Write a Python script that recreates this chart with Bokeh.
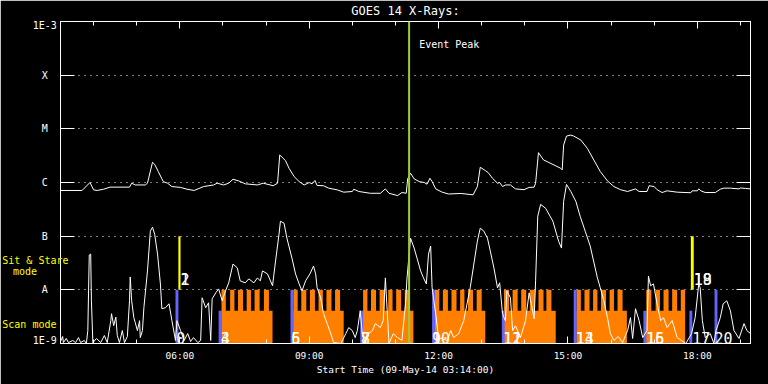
from bokeh.plotting import figure
from bokeh.models import (FixedTicker, LinearAxis, LogAxis, Span, Label,
                          CustomJSTickFormatter, ColumnDataSource)
from bokeh.core.properties import value
from bokeh.embed import file_html
from bokeh.resources import INLINE

FONT = "DejaVu Sans Mono"

# ---------------- data (time = minutes after start 09-May-14 03:14:00) ----------------
title_text = "GOES 14 X-Rays:"
start_label = "Start Time (09-May-14 03:14:00)"
x_tick_minutes = [166, 346, 526, 706, 886]
x_tick_labels = ["06:00", "09:00", "12:00", "15:00", "18:00"]
x_minor_minutes = [46, 106, 166, 226, 286, 346, 406, 466, 526, 586, 646, 706, 766, 826, 886, 946]
y_tick_values = [1e-9, 1e-8, 1e-7, 1e-6, 1e-5, 1e-4, 1e-3]
y_tick_labels = ["1E-9", "A", "B", "C", "M", "X", "1E-3"]
mode_labels = ["Sit & Stare", "mode", "Scan mode"]
event_peak_minute = 485

# GOES long channel (1-8 A)
long_t = [0, 30, 41, 46, 51, 60, 69, 96, 99, 104,
          118, 121, 128, 131, 136, 143, 149, 155, 167, 176,
          186, 199, 213, 218, 227, 234, 240, 248, 257, 274,
          282, 296, 302, 305, 313, 318, 325, 332, 339, 346,
          350, 354, 357, 366, 373, 385, 394, 406, 408, 415,
          431, 445, 452, 457, 469, 475, 481, 483, 487, 492,
          499, 506, 510, 514, 517, 522, 531, 540, 557, 574,
          580, 584, 591, 595, 601, 608, 611, 615, 619, 626,
          633, 645, 652, 659, 661, 665, 672, 677, 696, 698,
          700, 704, 710, 714, 724, 733, 742, 751, 761, 770,
          779, 789, 800, 805, 816, 819, 826, 830, 837, 844,
          858, 877, 879, 886, 888, 891, 897, 911, 918, 923,
          932, 944, 946, 953, 960]
long_flux = [7.1e-7, 7.1e-7, 1.0e-6, 7.3e-7, 7.1e-7, 7.5e-7, 8.2e-7, 8.2e-7, 9.7e-7, 9.0e-7,
             9.0e-7, 9.7e-7, 2.38e-6, 2.18e-6, 1.6e-6, 1.04e-6, 9.7e-7, 8.4e-7, 8.1e-7, 7.5e-7,
             7.1e-7, 8.4e-7, 9.0e-7, 9.7e-7, 9.0e-7, 9.7e-7, 1.15e-6, 1.07e-6, 9.45e-7, 9.0e-7,
             9.7e-7, 8.7e-7, 9.7e-7, 3.26e-6, 2.56e-6, 1.84e-6, 1.29e-6, 1.04e-6, 9.0e-7, 1.0e-6,
             9.45e-7, 1.09e-6, 8.8e-7, 8.7e-7, 7.85e-7, 7.3e-7, 6.6e-7, 6.8e-7, 7.5e-7, 6.8e-7,
             6.3e-7, 6.3e-7, 7.6e-7, 6.3e-7, 5.7e-7, 6.5e-7, 6.3e-7, 1.17e-6, 1.49e-6, 1.17e-6,
             1.04e-6, 1.0e-6, 9.3e-7, 1.2e-6, 1.04e-6, 7.6e-7, 6.6e-7, 6.1e-7, 6.25e-7, 5.9e-7,
             8.4e-7, 1.92e-6, 1.67e-6, 1.53e-6, 1.2e-6, 9.7e-7, 1.0e-6, 8.4e-7, 9.0e-7, 9.0e-7,
             7.6e-7, 7.35e-7, 8.1e-7, 8.2e-7, 9.7e-7, 3.6e-6, 2.63e-6, 2.45e-6, 1.84e-6, 1.72e-6,
             4.98e-6, 7.33e-6, 7.65e-6, 7.33e-6, 6.17e-6, 4.32e-6, 2.63e-6, 1.6e-6, 1.07e-6, 8.4e-7,
             7.35e-7, 6.8e-7, 7.6e-7, 6.8e-7, 6.8e-7, 8.7e-7, 8.4e-7, 7.35e-7, 6.5e-7, 7.0e-7,
             6.6e-7, 6.45e-7, 7.0e-7, 7.0e-7, 7.6e-7, 7.0e-7, 6.5e-7, 6.5e-7, 7.5e-7, 7.85e-7,
             7.85e-7, 7.6e-7, 7.9e-7, 7.75e-7, 7.6e-7]

# GOES short channel (0.5-4 A)
short_t = [0, 3, 4, 8, 11, 17, 21, 25, 28, 33,
           36, 38, 40, 42, 43, 45, 50, 56, 61, 65,
           70, 71, 74, 77, 79, 82, 86, 89, 93, 96,
           97, 99, 102, 104, 107, 110, 111, 114, 116, 121,
           125, 128, 131, 135, 139, 141, 146, 151, 155, 160,
           162, 167, 172, 177, 181, 185, 191, 195, 197, 202,
           206, 209, 211, 216, 220, 225, 228, 234, 240, 246,
           250, 257, 262, 269, 274, 278, 281, 288, 295, 298,
           304, 306, 311, 315, 322, 327, 332, 336, 341, 347,
           352, 355, 357, 362, 366, 371, 376, 380, 390, 397,
           401, 406, 410, 413, 417, 420, 424, 429, 434, 438,
           445, 449, 452, 457, 463, 469, 475, 480, 482, 487,
           492, 496, 501, 505, 509, 512, 515, 517, 522, 526,
           538, 543, 547, 554, 561, 570, 580, 584, 589, 594,
           598, 603, 608, 611, 615, 617, 619, 621, 626, 629,
           633, 640, 647, 652, 656, 659, 661, 664, 668, 675,
           685, 693, 697, 700, 704, 710, 717, 723, 730, 737,
           747, 751, 756, 761, 765, 770, 776, 782, 789, 793,
           796, 800, 805, 810, 816, 818, 821, 825, 830, 835,
           839, 844, 851, 858, 870, 878, 883, 888, 890, 893,
           897, 904, 909, 912, 918, 922, 927, 932, 937, 944,
           951, 955, 960]
short_flux = [1.09e-9, 1.35e-9, 1.04e-9, 1.24e-9, 1.04e-9, 1.14e-9, 1.04e-9, 1.29e-9, 1.04e-9, 1.14e-9,
              1.0e-9, 1.74e-9, 4.45e-8, 4.64e-8, 6.25e-9, 1.04e-9, 1.24e-9, 1.04e-9, 1.41e-9, 1.04e-9,
              2.67e-9, 3.59e-9, 2.15e-9, 3.1e-9, 1.41e-9, 1.04e-9, 1.74e-9, 1.04e-9, 1.35e-9, 6.25e-9,
              1.74e-8, 6.25e-9, 3.03e-9, 2.45e-9, 1.74e-9, 2.67e-9, 1.29e-9, 1.74e-9, 4.64e-9, 2.25e-8,
              1.24e-7, 1.47e-7, 1.09e-7, 4.64e-8, 1.29e-8, 4.45e-9, 4.64e-9, 5.5e-9, 2.67e-9, 1.14e-9,
              2.67e-9, 1.74e-9, 1.14e-9, 1.53e-9, 1.09e-9, 1.29e-9, 1.04e-9, 1.14e-9, 7.11e-9, 4.64e-9,
              5.74e-9, 1.14e-9, 6.81e-9, 8.8e-9, 1.04e-8, 6.25e-9, 8.43e-9, 1.35e-8, 3.03e-8, 2.56e-8,
              1.47e-8, 1.35e-8, 1.6e-8, 1.35e-8, 1.67e-8, 1.47e-8, 2.25e-8, 1.98e-8, 1.19e-8, 2.56e-8,
              1.09e-7, 1.9e-7, 1.74e-7, 9.18e-8, 3.91e-8, 1.98e-8, 1.29e-8, 9.58e-9, 1.47e-8, 1.98e-8,
              2.78e-8, 1.98e-8, 1.09e-8, 7.11e-9, 3.59e-9, 2.35e-9, 1.53e-9, 1.04e-9, 1.0e-9, 1.53e-9,
              1.98e-9, 1.74e-9, 1.29e-9, 1.74e-9, 4.08e-9, 1.41e-9, 1.04e-9, 1.53e-9, 1.74e-9, 2.35e-9,
              1.98e-9, 2.67e-9, 1.67e-8, 1.0e-9, 1.53e-9, 1.29e-9, 1.14e-9, 5.5e-9, 1.6e-8, 9.18e-8,
              6.0e-8, 3.91e-8, 2.25e-8, 1.67e-8, 1.29e-8, 4.64e-8, 6.53e-8, 1.09e-8, 3.59e-9, 1.29e-9,
              1.14e-9, 1.74e-9, 1.29e-9, 1.53e-9, 2.67e-9, 1.09e-8, 8.08e-8, 1.41e-7, 1.24e-7, 9.18e-8,
              5.27e-8, 2.56e-8, 1.09e-8, 1.35e-8, 3.59e-9, 3.03e-9, 2.67e-9, 9.58e-9, 7.11e-9, 1.74e-9,
              2.15e-9, 1.29e-9, 2.67e-9, 8.8e-9, 4.64e-9, 2.9e-9, 1.47e-8, 2.35e-7, 3.91e-7, 3.3e-7,
              1.9e-7, 8.08e-8, 6.0e-8, 4.45e-7, 9.18e-7, 6.81e-7, 4.45e-7, 2.35e-7, 1.24e-7, 6.53e-8,
              1.67e-8, 1.09e-8, 6.25e-9, 3.03e-9, 1.53e-9, 1.14e-9, 1.35e-9, 1.04e-9, 1.74e-9, 3.03e-9,
              1.24e-9, 4.45e-9, 2.67e-9, 1.29e-9, 1.74e-9, 1.8e-8, 1.19e-8, 1.29e-8, 5.5e-9, 2.67e-9,
              3.03e-9, 1.98e-9, 2.67e-9, 1.29e-9, 1.0e-9, 1.53e-9, 3.03e-9, 1.29e-8, 1.09e-8, 2.67e-9,
              1.29e-9, 1.53e-9, 1.0e-9, 1.74e-9, 3.03e-9, 5.5e-9, 6.25e-9, 4.08e-9, 1.74e-9, 1.24e-9,
              2.35e-9, 1.74e-9, 1.53e-9]

# Scan-mode observation blocks (orange base) and individual rasters (orange teeth)
block_start = [224, 324, 421, 521, 617, 718, 815]
block_end = [295, 394, 491, 591, 689, 788, 869]
raster_start = [224, 236, 247, 259, 270, 283,
                324, 335, 347, 359, 370, 382,
                421, 432, 444, 456, 467, 479,
                521, 532, 544, 556, 567, 579,
                617, 629, 641, 653, 665, 676,
                718, 729, 741, 752, 764, 775,
                815, 828, 839, 851, 863]
raster_end = [230, 242, 254, 265, 277, 290,
              330, 342, 354, 365, 377, 389,
              427, 439, 451, 462, 474, 486,
              527, 539, 551, 562, 574, 586,
              624, 636, 648, 660, 672, 683,
              724, 736, 747, 759, 770, 782,
              822, 834, 846, 858, 869]
scan_base_level = 4.08e-9
scan_top_level = 1e-8

# Observation start markers
blue_start = [160, 220, 320, 417, 517, 614, 714, 811, 875, 910]
blue_end = [164, 224, 324, 421, 521, 618, 718, 815, 879, 914]
blue_top = [1e-8, 4.08e-9, 1e-8, 4.08e-9, 1e-8, 4.08e-9, 1e-8, 4.08e-9, 4.08e-9, 1e-8]
yellow_start = [164, 877]
yellow_end = [167, 881]

# Observation numbers
obs_text = ["0", "1", "2", "3", "4", "5", "6", "7", "8", "9", "10",
            "11", "12", "13", "14", "15", "16", "17", "18", "19", "20"]
obs_time = [161, 167, 167, 223, 223, 321, 321, 418, 418, 517, 517,
            616, 616, 717, 717, 815, 815, 879, 881, 881, 910]
obs_mode = ["scan", "ss", "ss", "scan", "scan", "scan", "scan", "scan", "scan", "scan", "scan",
            "scan", "scan", "scan", "scan", "scan", "scan", "scan", "ss", "ss", "scan"]

assert len(long_t) == len(long_flux)
assert len(short_t) == len(short_flux)
assert len(raster_start) == len(raster_end)

# ---------------- figure ----------------
p = figure(width=768, height=384, x_range=(0, 960), y_range=(1e-9, 1e-3),
           y_axis_type="log", output_backend="svg", toolbar_location=None,
           background_fill_color="black", border_fill_color="black",
           min_border_left=60, min_border_right=18, min_border_top=19,
           min_border_bottom=41, outline_line_color="white")

blank = CustomJSTickFormatter(code="return ''")
xt = FixedTicker(ticks=x_tick_minutes, minor_ticks=x_minor_minutes)
yt = FixedTicker(ticks=y_tick_values, minor_ticks=[])

xax = p.xaxis[0]
xax.ticker = xt
xax.major_label_overrides = {m: lab for m, lab in zip(x_tick_minutes, x_tick_labels)}
xax.axis_line_color = "white"
xax.major_tick_line_color = "white"
xax.minor_tick_line_color = "white"
xax.major_tick_in = 7
xax.major_tick_out = 0
xax.minor_tick_in = 4
xax.minor_tick_out = 0
xax.major_label_text_color = "white"
xax.major_label_text_font = FONT
xax.major_label_text_font_size = "9.5px"
xax.major_label_standoff = 6
xax.axis_label = start_label
xax.axis_label_text_color = "white"
xax.axis_label_text_font = FONT
xax.axis_label_text_font_size = "9.5px"
xax.axis_label_text_font_style = "normal"
xax.axis_label_standoff = 0

yax = p.yaxis[0]
yax.ticker = yt
yax.formatter = blank
yax.axis_line_color = "white"
yax.major_tick_line_color = "white"
yax.minor_tick_line_color = None
yax.major_tick_in = 14
yax.major_tick_out = 0
yax.major_label_text_font_size = "0px"

# top axis carries the title as its axis label
top = LinearAxis(ticker=xt, formatter=blank, axis_line_color="white",
                 major_tick_line_color="white", minor_tick_line_color="white",
                 major_tick_in=7, major_tick_out=0, minor_tick_in=4, minor_tick_out=0,
                 major_label_text_font_size="0px", major_label_standoff=0,
                 axis_label=title_text, axis_label_text_color="white",
                 axis_label_text_font=FONT, axis_label_text_font_size="12px",
                 axis_label_text_font_style="normal", axis_label_standoff=4)
p.add_layout(top, "above")
right = LogAxis(ticker=yt, formatter=blank, axis_line_color="white",
                major_tick_line_color="white", minor_tick_line_color=None,
                major_tick_in=14, major_tick_out=0, major_label_text_font_size="0px")
p.add_layout(right, "right")

p.xgrid.visible = False
p.ygrid.ticker = yt
p.ygrid.grid_line_color = "white"
p.ygrid.grid_line_dash = "1 5"
p.ygrid.grid_line_width = 1

# orange scan blocks
p.quad(left=block_start, right=block_end, bottom=1e-9, top=scan_base_level,
       fill_color="#ff8000", line_color=None)
p.quad(left=raster_start, right=raster_end, bottom=1e-9, top=scan_top_level,
       fill_color="#ff8000", line_color=None)
# markers
p.quad(left=blue_start, right=blue_end, bottom=1e-9, top=blue_top,
       fill_color="#6464ff", line_color=None)
p.quad(left=yellow_start, right=yellow_end, bottom=1e-8, top=1e-7,
       fill_color="#ffff00", line_color=None)

# light curves
p.line(long_t, long_flux, line_color="white", line_width=1)
p.line(short_t, short_flux, line_color="white", line_width=1)

# event peak
p.add_layout(Span(location=event_peak_minute, dimension="height",
                  line_color="#9acd32", line_width=2))
p.add_layout(Label(x=event_peak_minute + 14, y=3.67e-4, text="Event Peak",
                   text_color="white", text_font=FONT, text_font_size="10px",
                   text_align="left", text_baseline="middle"))

# observation numbers
level = {"scan": 1.27e-9, "ss": 1.58e-8}
src = ColumnDataSource(dict(x=obs_time, y=[level[m] for m in obs_mode], t=obs_text))
p.text(x="x", y="y", text="t", source=src, text_color="white",
       text_font=value(FONT), text_font_size="15px",
       text_align="left", text_baseline="alphabetic")

# y tick labels, centred in the left margin (overlay level -> not clipped to the frame)
label_y = {"1E-3": 8.43e-4, "1E-9": 1.14e-9}
ysrc = ColumnDataSource(dict(x=[-22] * len(y_tick_labels),
                             y=[label_y.get(l, v) for v, l in zip(y_tick_values, y_tick_labels)],
                             t=y_tick_labels))
p.text(x="x", y="y", text="t", source=ysrc, text_color="white",
       text_font=value(FONT), text_font_size="10px",
       text_align="center", text_baseline="middle", level="overlay")

# mode labels
msrc = ColumnDataSource(dict(x=[-81, -66, -81], y=[3.59e-8, 2.15e-8, 2.25e-9], t=mode_labels))
p.text(x="x", y="y", text="t", source=msrc, text_color="#ffff00",
       text_font=value(FONT), text_font_size="10px",
       text_align="left", text_baseline="middle", level="overlay")

open("out.html", "w").write(file_html(p, INLINE))
